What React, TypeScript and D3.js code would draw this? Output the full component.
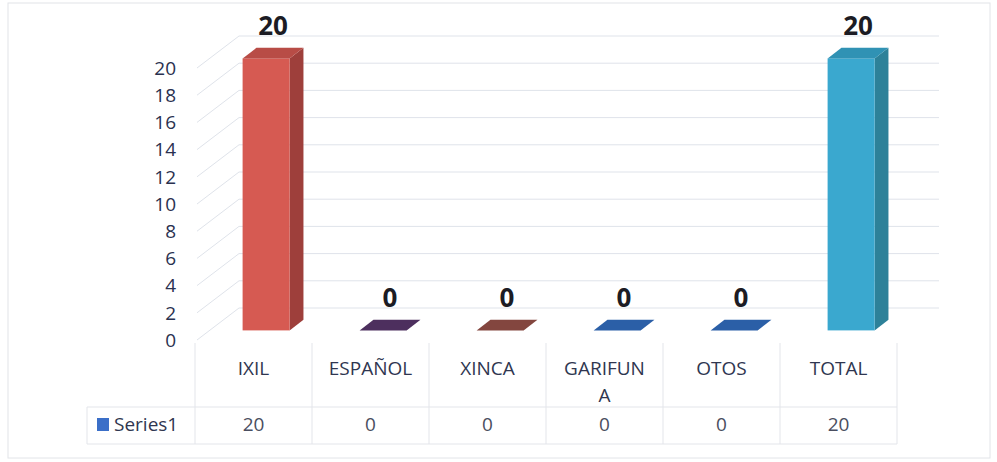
import * as d3 from "d3";

const categories = ["IXIL", "ESPAÑOL", "XINCA", "GARIFUNA", "OTOS", "TOTAL"];
const categoryLines = [["IXIL"], ["ESPAÑOL"], ["XINCA"], ["GARIFUN", "A"], ["OTOS"], ["TOTAL"]];
const values = [20, 0, 0, 0, 0, 20];
const seriesName = "Series1";
const yTicks = d3.range(0, 21, 2);

// colours of each column: front, side, top
const barColors = [
  { front: "#d65a52", side: "#9e3f3b", top: "#b84c46" },
  { front: "#4d2f5e", side: "#3a2248", top: "#4d2f5e" },
  { front: "#7c3f3f", side: "#5e2c30", top: "#83463f" },
  { front: "#2b5fa7", side: "#214a85", top: "#2b5fa7" },
  { front: "#2b5fa7", side: "#214a85", top: "#2b5fa7" },
  { front: "#3aa8cf", side: "#2d8199", top: "#3092b4" },
];

const W = 997;
const H = 462;
const depth = { dx: 42, dy: -32 };
const font = "'Open Sans', 'DejaVu Sans', sans-serif";

const x = d3.scaleBand<string>().domain(categories).range([195, 897]);
const y = d3.scaleLinear().domain([0, 20]).range([340, 68]);

const App = () => {
  const bw = x.bandwidth();
  const barW = 47;
  const t0 = 0.3;
  const t1 = 0.33;
  const sx = depth.dx * t0;
  const sy = depth.dy * t0;
  const ox = depth.dx * t1;
  const oy = depth.dy * t1;

  return (
    <svg
      width={W}
      height={H}
      style={{ position: "absolute", left: 0, top: 0, background: "#fff" }}
      fontFamily={font}
    >
      <rect x={8} y={3} width={982} height={455} fill="none" stroke="#e2e4e8" />

      {/* side wall and back wall gridlines */}
      {yTicks.map((t) => (
        <g key={t} stroke="#dfe3ea" strokeWidth={1}>
          <line x1={197} y1={y(t)} x2={197 + depth.dx} y2={y(t) + depth.dy} />
          <line x1={197 + depth.dx} y1={y(t) + depth.dy} x2={897 + depth.dx} y2={y(t) + depth.dy} />
        </g>
      ))}

      {/* y tick labels */}
      {yTicks.map((t) => (
        <text
          key={t}
          x={176}
          y={y(t)}
          dy="0.36em"
          textAnchor="end"
          fontSize={19}
          fill="#2a3150"
        >
          {t}
        </text>
      ))}

      {/* bars */}
      {categories.map((c, i) => {
        const c0 = barColors[i];
        const left = (x(c) as number) + (bw - barW) / 2 + sx;
        const bottom = y(0) + sy;
        const top = y(values[i]) + sy;
        const h = bottom - top;
        const topFace = `M${left},${top} L${left + barW},${top} L${left + barW + ox},${top + oy} L${left + ox},${top + oy} Z`;
        const sideFace = `M${left + barW},${top} L${left + barW + ox},${top + oy} L${left + barW + ox},${bottom + oy} L${left + barW},${bottom} Z`;
        return (
          <g key={c}>
            {h > 0 && <path d={sideFace} fill={c0.side} />}
            {h > 0 && <rect x={left} y={top} width={barW} height={h} fill={c0.front} />}
            <path d={topFace} fill={c0.top} />
            <text
              x={left + barW / 2 + ox / 2}
              y={top + oy - 13}
              textAnchor="middle"
              fontSize={26}
              fontWeight="bold"
              fill="#1c1c24"
            >
              {values[i]}
            </text>
          </g>
        );
      })}

      {/* data table */}
      <g stroke="#e3e5ea" strokeWidth={1}>
        {d3.range(categories.length + 1).map((k) => {
          const xx = 195 + bw * k;
          return <line key={k} x1={xx} y1={343} x2={xx} y2={444} />;
        })}
        <line x1={87} y1={407} x2={897} y2={407} />
        <line x1={87} y1={444} x2={897} y2={444} />
        <line x1={87} y1={407} x2={87} y2={444} />
      </g>

      {categories.map((c, i) => (
        <text
          key={c}
          x={(x(c) as number) + bw / 2}
          y={375}
          textAnchor="middle"
          fontSize={19}
          fill="#2f3650"
        >
          {categoryLines[i].map((ln, j) => (
            <tspan key={j} x={(x(c) as number) + bw / 2} dy={j === 0 ? 0 : 27}>
              {ln}
            </tspan>
          ))}
        </text>
      ))}

      <rect x={97} y={418} width={12} height={13} fill="#3b6fc8" />
      <text x={114} y={431} fontSize={19} fill="#2f3650">
        {seriesName}
      </text>
      {categories.map((c, i) => (
        <text
          key={c}
          x={(x(c) as number) + bw / 2}
          y={431}
          textAnchor="middle"
          fontSize={19}
          fill="#4a4e60"
        >
          {values[i]}
        </text>
      ))}
    </svg>
  );
};

export default App;
